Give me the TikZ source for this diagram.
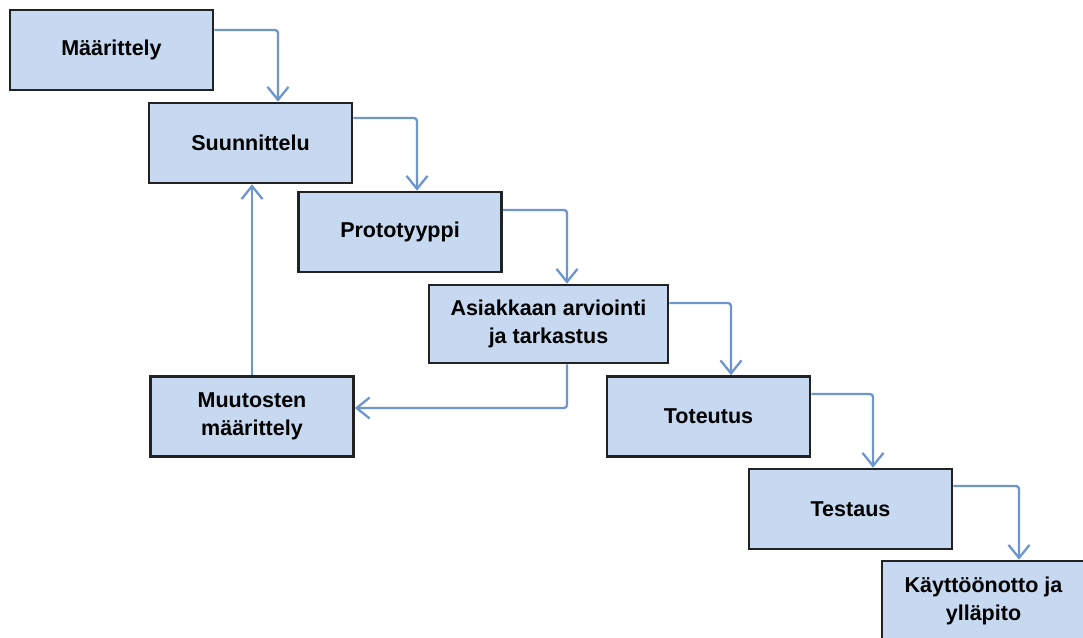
\documentclass[tikz,border=0pt]{standalone}
\usepackage{fontspec}
\setmainfont{Liberation Sans}
\usetikzlibrary{arrows.meta}
\definecolor{boxfill}{HTML}{C6D9F1}
\definecolor{boxline}{HTML}{222222}
\definecolor{flow}{HTML}{6E96CE}
\begin{document}
\begin{tikzpicture}[x=1pt,y=-1pt,
  stage/.style={draw=boxline, line width=2.6pt, fill=boxfill,
    minimum width=203pt, minimum height=80pt, inner sep=0pt,
    align=center, font=\fontsize{21.5}{28}\selectfont\bfseries},
  flowarrow/.style={draw=flow, line width=2.3pt, rounded corners=3pt,
    -{Straight Barb[length=13pt,width=21pt,line width=2.3pt]}}]
\clip (0,0) rectangle (1083,637);
\fill[white] (0,0) rectangle (1083,637);

% process stages
\node[stage] (spec)   at (111.5,50)  {Määrittely};
\node[stage] (design) at (250.5,143) {Suunnittelu};
\node[stage] (proto)  at (400,232)   {Prototyyppi};
\node[stage, minimum width=239pt, minimum height=78pt] (review) at (548.5,324)
  {Asiakkaan arviointi\\ja tarkastus};
\node[stage] (impl)   at (708.5,416.5) {Toteutus};
\node[stage] (test)   at (850.5,509) {Testaus};
\node[stage] (deploy) at (983.5,601) {Käyttöönotto ja\\ylläpito};
\node[stage] (change) at (252,416.5) {Muutosten\\määrittely};

% main flow
\draw[flowarrow] ([yshift=20pt]spec.east)   -| ([xshift=27.5pt]design.north);
\draw[flowarrow] ([yshift=25pt]design.east) -| ([xshift=17pt]proto.north);
\draw[flowarrow] ([yshift=22pt]proto.east)  -| ([xshift=167pt]proto.north |- review.north);
\draw[flowarrow] ([yshift=21pt]review.east) -| ([xshift=22.5pt]impl.north);
\draw[flowarrow] ([yshift=22.5pt]impl.east) -| ([xshift=22.5pt]test.north);
\draw[flowarrow] ([yshift=23pt]test.east)   -| ([xshift=35.5pt]deploy.north);

% feedback loop
\draw[flowarrow] ([xshift=18.5pt]review.south) |- ([yshift=8.5pt]change.east);
\draw[flowarrow] (change.north) -- (change.north |- design.south);
\end{tikzpicture}
\end{document}
